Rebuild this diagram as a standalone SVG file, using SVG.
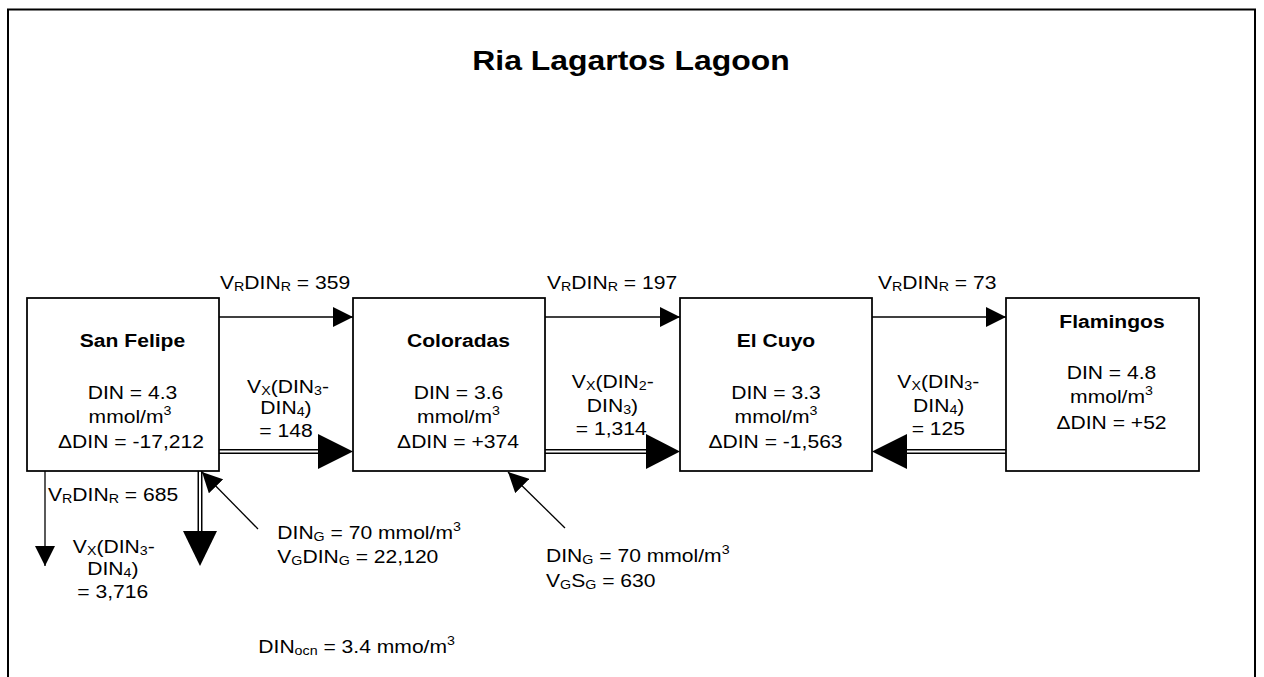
<svg xmlns="http://www.w3.org/2000/svg" width="1264" height="677" viewBox="0 0 1264 677">
<style>
.t{font-family:"Liberation Sans",Arial,sans-serif;font-size:18.5px;fill:#000}
.b{font-weight:bold}
.s{font-size:12.5px}
.box{fill:#fff;stroke:#000;stroke-width:1.75}
.ln{stroke:#000;stroke-width:1.3;fill:none}
.dbl{stroke:#000;stroke-width:5;fill:none}
.dblw{stroke:#fff;stroke-width:2;fill:none}
.hd{fill:#000}
</style>
<defs>
<marker id="ah" viewBox="0 0 20 20" refX="20" refY="10" markerWidth="20" markerHeight="20" markerUnits="userSpaceOnUse" orient="auto">
<path d="M0,0 L20,10 L0,20 Z" fill="#000"/>
</marker>
</defs>
<rect width="1264" height="677" fill="#fff"/>
<path d="M8,690 V9.5 H1255 V690" fill="none" stroke="#000" stroke-width="2"/>
<text class="t b" font-size="28" style="font-size:28px" text-anchor="middle" transform="translate(631,70) scale(1.14,1)">Ria Lagartos Lagoon</text>

<g id="connectors">
<line class="ln" x1="219" y1="317" x2="353" y2="317" marker-end="url(#ah)"/>
<line class="ln" x1="545" y1="317" x2="680" y2="317" marker-end="url(#ah)"/>
<line class="ln" x1="872" y1="317" x2="1006" y2="317" marker-end="url(#ah)"/>
<line class="dbl" x1="219" y1="451.5" x2="320" y2="451.5"/>
<line class="dblw" x1="219" y1="451.5" x2="320" y2="451.5"/>
<polygon class="hd" points="318,434 353,451.5 318,469"/>
<line class="dbl" x1="545" y1="451.5" x2="648" y2="451.5"/>
<line class="dblw" x1="545" y1="451.5" x2="648" y2="451.5"/>
<polygon class="hd" points="646,434 680,451.5 646,469"/>
<line class="dbl" x1="905" y1="451.5" x2="1006" y2="451.5"/>
<line class="dblw" x1="905" y1="451.5" x2="1006" y2="451.5"/>
<polygon class="hd" points="907,434 872,451.5 907,469"/>
<line class="ln" x1="45" y1="471" x2="45" y2="566" marker-end="url(#ah)"/>
<line class="dbl" x1="200" y1="471" x2="200" y2="533"/>
<line class="dblw" x1="200" y1="471" x2="200" y2="533"/>
<polygon class="hd" points="183,531 200,566 217,531"/>
<line class="ln" x1="258" y1="529" x2="202" y2="472" marker-end="url(#ah)"/>
<line class="ln" x1="565" y1="528" x2="508" y2="472" marker-end="url(#ah)"/>
</g>

<g id="node-san-felipe">
<rect class="box" x="27" y="298" width="192" height="173"/>
<text class="t b" text-anchor="middle" transform="translate(132.5,347) scale(1.14,1)">San Felipe</text>
<text class="t" text-anchor="middle" transform="translate(132.5,399) scale(1.14,1)">DIN = 4.3</text>
<text class="t" text-anchor="middle" transform="translate(130,422.7) scale(1.14,1)">mmol/m<tspan class="s" dy="-8">3</tspan></text>
<text class="t" text-anchor="middle" transform="translate(131,448) scale(1.14,1)">ΔDIN = -17,212</text>
</g>

<g id="node-coloradas">
<rect class="box" x="353" y="298" width="192" height="173"/>
<text class="t b" text-anchor="middle" transform="translate(458.5,347) scale(1.14,1)">Coloradas</text>
<text class="t" text-anchor="middle" transform="translate(458.5,398.5) scale(1.14,1)">DIN = 3.6</text>
<text class="t" text-anchor="middle" transform="translate(458.5,422.7) scale(1.14,1)">mmol/m<tspan class="s" dy="-8">3</tspan></text>
<text class="t" text-anchor="middle" transform="translate(458,448) scale(1.14,1)">ΔDIN = +374</text>
</g>

<g id="node-el-cuyo">
<rect class="box" x="680" y="298" width="192" height="173"/>
<text class="t b" text-anchor="middle" transform="translate(776,347) scale(1.14,1)">El Cuyo</text>
<text class="t" text-anchor="middle" transform="translate(776,398.5) scale(1.14,1)">DIN = 3.3</text>
<text class="t" text-anchor="middle" transform="translate(776,422.7) scale(1.14,1)">mmol/m<tspan class="s" dy="-8">3</tspan></text>
<text class="t" text-anchor="middle" transform="translate(775.5,448) scale(1.14,1)">ΔDIN = -1,563</text>
</g>

<g id="node-flamingos">
<rect class="box" x="1006" y="298" width="193" height="173"/>
<text class="t b" text-anchor="middle" transform="translate(1112,328.3) scale(1.14,1)">Flamingos</text>
<text class="t" text-anchor="middle" transform="translate(1111.5,379) scale(1.14,1)">DIN = 4.8</text>
<text class="t" text-anchor="middle" transform="translate(1111.5,402.7) scale(1.14,1)">mmol/m<tspan class="s" dy="-8">3</tspan></text>
<text class="t" text-anchor="middle" transform="translate(1111.5,429.3) scale(1.14,1)">ΔDIN = +52</text>
</g>

<g id="labels">
<text class="t" transform="translate(220,289) scale(1.14,1)">V<tspan class="s" dy="2">R</tspan><tspan dy="-2">DIN</tspan><tspan class="s" dy="2">R</tspan><tspan dy="-2"> = 359</tspan></text>
<text class="t" transform="translate(547,289) scale(1.14,1)">V<tspan class="s" dy="2">R</tspan><tspan dy="-2">DIN</tspan><tspan class="s" dy="2">R</tspan><tspan dy="-2"> = 197</tspan></text>
<text class="t" transform="translate(878,289) scale(1.14,1)">V<tspan class="s" dy="2">R</tspan><tspan dy="-2">DIN</tspan><tspan class="s" dy="2">R</tspan><tspan dy="-2"> = 73</tspan></text>

<text class="t" text-anchor="middle" transform="translate(288,392.7) scale(1.14,1)">V<tspan class="s" dy="2">X</tspan><tspan dy="-2">(DIN</tspan><tspan class="s" dy="2">3</tspan><tspan dy="-2">-</tspan></text>
<text class="t" text-anchor="middle" transform="translate(286,414) scale(1.14,1)">DIN<tspan class="s" dy="2">4</tspan><tspan dy="-2">)</tspan></text>
<text class="t" text-anchor="middle" transform="translate(286,436.7) scale(1.14,1)">= 148</text>

<text class="t" text-anchor="middle" transform="translate(612.8,388.3) scale(1.14,1)">V<tspan class="s" dy="2">X</tspan><tspan dy="-2">(DIN</tspan><tspan class="s" dy="2">2</tspan><tspan dy="-2">-</tspan></text>
<text class="t" text-anchor="middle" transform="translate(612.5,411.7) scale(1.14,1)">DIN<tspan class="s" dy="2">3</tspan><tspan dy="-2">)</tspan></text>
<text class="t" text-anchor="middle" transform="translate(611.3,435) scale(1.14,1)">= 1,314</text>

<text class="t" text-anchor="middle" transform="translate(938.3,388.3) scale(1.14,1)">V<tspan class="s" dy="2">X</tspan><tspan dy="-2">(DIN</tspan><tspan class="s" dy="2">3</tspan><tspan dy="-2">-</tspan></text>
<text class="t" text-anchor="middle" transform="translate(938.7,411.7) scale(1.14,1)">DIN<tspan class="s" dy="2">4</tspan><tspan dy="-2">)</tspan></text>
<text class="t" text-anchor="middle" transform="translate(938.3,435) scale(1.14,1)">= 125</text>

<text class="t" transform="translate(48,500.7) scale(1.14,1)">V<tspan class="s" dy="2">R</tspan><tspan dy="-2">DIN</tspan><tspan class="s" dy="2">R</tspan><tspan dy="-2"> = 685</tspan></text>
<text class="t" text-anchor="middle" transform="translate(113.8,553.3) scale(1.14,1)">V<tspan class="s" dy="2">X</tspan><tspan dy="-2">(DIN</tspan><tspan class="s" dy="2">3</tspan><tspan dy="-2">-</tspan></text>
<text class="t" text-anchor="middle" transform="translate(112.8,575) scale(1.14,1)">DIN<tspan class="s" dy="2">4</tspan><tspan dy="-2">)</tspan></text>
<text class="t" text-anchor="middle" transform="translate(112.8,598.3) scale(1.14,1)">= 3,716</text>

<text class="t" transform="translate(277.3,539) scale(1.14,1)">DIN<tspan class="s" dy="2">G</tspan><tspan dy="-2"> = 70 mmol/m</tspan><tspan class="s" dy="-8">3</tspan></text>
<text class="t" transform="translate(277.3,562.7) scale(1.14,1)">V<tspan class="s" dy="2">G</tspan><tspan dy="-2">DIN</tspan><tspan class="s" dy="2">G</tspan><tspan dy="-2"> = 22,120</tspan></text>

<text class="t" transform="translate(546,561.7) scale(1.14,1)">DIN<tspan class="s" dy="2">G</tspan><tspan dy="-2"> = 70 mmol/m</tspan><tspan class="s" dy="-8">3</tspan></text>
<text class="t" transform="translate(546,586.7) scale(1.14,1)">V<tspan class="s" dy="2">G</tspan><tspan dy="-2">S</tspan><tspan class="s" dy="2">G</tspan><tspan dy="-2"> = 630</tspan></text>

<text class="t" transform="translate(258.3,653.3) scale(1.14,1)">DIN<tspan class="s" dy="2">ocn</tspan><tspan dy="-2"> = 3.4 mmo/m</tspan><tspan class="s" dy="-8">3</tspan></text>
</g>
</svg>
